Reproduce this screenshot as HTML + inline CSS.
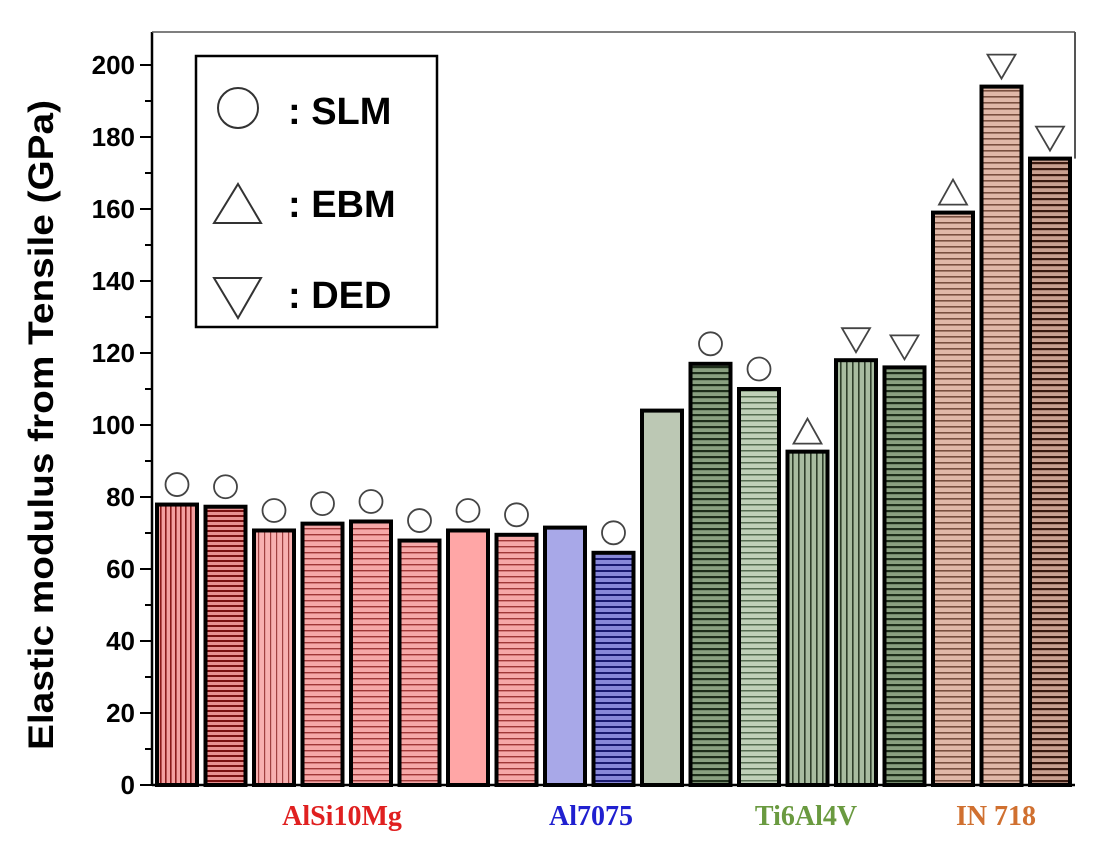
<!DOCTYPE html>
<html><head><meta charset="utf-8"><style>
body{margin:0;background:#fff;}
svg text{font-family:"Liberation Sans",Arial,sans-serif;}
svg text.serif{font-family:"Liberation Serif",serif;}
</style></head><body>
<svg id="chart" width="1104" height="849" viewBox="0 0 1104 849" xmlns="http://www.w3.org/2000/svg">
<defs>
<pattern id="pv-red" width="5" height="5" patternUnits="userSpaceOnUse"><rect width="5" height="5" fill="#f4a0a0"/><rect width="1.6" height="5" fill="#8a1a1a"/></pattern>
<pattern id="ph-reddark" width="5" height="5" patternUnits="userSpaceOnUse"><rect width="5" height="5" fill="#e89090"/><rect width="5" height="2" fill="#7a1010"/></pattern>
<pattern id="pv-redlight" width="6" height="6" patternUnits="userSpaceOnUse"><rect width="6" height="6" fill="#f8b0b0"/><rect width="1.2" height="6" fill="#a04040"/></pattern>
<pattern id="ph-redlight" width="6" height="6" patternUnits="userSpaceOnUse"><rect width="6" height="6" fill="#f6a8a8"/><rect width="6" height="1.4" fill="#a03838"/></pattern>
<pattern id="solid-red" width="6" height="6" patternUnits="userSpaceOnUse"><rect width="6" height="6" fill="#ffa6a6"/></pattern>
<pattern id="solid-blue" width="6" height="6" patternUnits="userSpaceOnUse"><rect width="6" height="6" fill="#a8a8e8"/></pattern>
<pattern id="ph-blue" width="6" height="6" patternUnits="userSpaceOnUse"><rect width="6" height="6" fill="#8888d8"/><rect width="6" height="2" fill="#1a1a70"/></pattern>
<pattern id="solid-green" width="6" height="6" patternUnits="userSpaceOnUse"><rect width="6" height="6" fill="#bcc8b4"/></pattern>
<pattern id="ph-greendark" width="6" height="6" patternUnits="userSpaceOnUse"><rect width="6" height="6" fill="#8aa080"/><rect width="6" height="2.2" fill="#1e2e1a"/></pattern>
<pattern id="ph-greenlight" width="6" height="6" patternUnits="userSpaceOnUse"><rect width="6" height="6" fill="#c0d0b8"/><rect width="6" height="1.5" fill="#556b50"/></pattern>
<pattern id="pv-green" width="6" height="6" patternUnits="userSpaceOnUse"><rect width="6" height="6" fill="#a8bca0"/><rect width="1.6" height="6" fill="#2e3e2a"/></pattern>
<pattern id="ph-brownlight" width="6" height="6" patternUnits="userSpaceOnUse"><rect width="6" height="6" fill="#e0b8a8"/><rect width="6" height="1.6" fill="#7a5040"/></pattern>
<pattern id="ph-browndark" width="6" height="6" patternUnits="userSpaceOnUse"><rect width="6" height="6" fill="#c8a090"/><rect width="6" height="2.2" fill="#3a1a10"/></pattern>
</defs>
<g id="axes"></g>
<g id="bars"></g>
<g id="markers"></g>
<g>
<rect x="196" y="56" width="241" height="271" fill="#fff" stroke="#000" stroke-width="2.5"/>
<circle cx="238" cy="108" r="20" fill="none" stroke="#333" stroke-width="2"/>
<text x="288" y="124" font-size="38" font-weight="bold">: SLM</text>
<polygon points="238,184 261,223 214,223" fill="none" stroke="#333" stroke-width="2"/>
<text x="288" y="217" font-size="38" font-weight="bold">: EBM</text>
<polygon points="214,278 261,278 238,318" fill="none" stroke="#333" stroke-width="2"/>
<text x="288" y="308" font-size="38" font-weight="bold">: DED</text>
</g>
<text transform="translate(53,425) rotate(-90)" text-anchor="middle" font-size="35" font-weight="bold" textLength="650" lengthAdjust="spacingAndGlyphs">Elastic modulus from Tensile (GPa)</text>
<g font-weight="bold" font-size="28">
<text class="serif" x="342" y="825" text-anchor="middle" fill="#e02020">AlSi10Mg</text>
<text class="serif" x="591" y="825" text-anchor="middle" fill="#2020d0">Al7075</text>
<text class="serif" x="806" y="825" text-anchor="middle" fill="#6a9a40">Ti6Al4V</text>
<text class="serif" x="996" y="825" text-anchor="middle" fill="#d07030">IN 718</text>
</g>
</svg>
<script>
const values = [77.9, 77.3, 70.7, 72.6, 73.2, 67.9, 70.7, 69.5, 71.5, 64.5, 104, 117, 110, 92.6, 118, 116, 159, 194, 174];
const processes = ["SLM","SLM","SLM","SLM","SLM","SLM","SLM","SLM","none","SLM","none","SLM","SLM","EBM","DED","DED","EBM","DED","DED"];
const fills = ["pv-red","ph-reddark","pv-redlight","ph-redlight","ph-redlight","ph-redlight","solid-red","ph-redlight","solid-blue","ph-blue","solid-green","ph-greendark","ph-greenlight","pv-green","pv-green","ph-greendark","ph-brownlight","ph-brownlight","ph-browndark"];
const yTicks = [0,20,40,60,80,100,120,140,160,180,200];
const NS="http://www.w3.org/2000/svg";
const x0=152,x1=1075,yBase=785,yTop=32;
function y(v){return yBase - v*3.6;}
function xc(i){return 177 + i*48.5;}
function mk(tag,attrs,parent){const e=document.createElementNS(NS,tag);for(const k in attrs)e.setAttribute(k,attrs[k]);parent.appendChild(e);return e;}
const axes=document.getElementById('axes');
let l=mk('line',{x1:x0,y1:yTop,x2:x0,y2:yBase,stroke:'#000','stroke-width':2.5},axes);


l=mk('line',{x1:x0,y1:yBase,x2:x1,y2:yBase,stroke:'#000','stroke-width':2.5},axes);


l=mk('line',{x1:x0,y1:yTop,x2:x1,y2:yTop,stroke:'#555','stroke-width':1.5},axes);


l=mk('line',{x1:x1,y1:yTop,x2:x1,y2:y(174),stroke:'#555','stroke-width':2},axes);


for(let v=10;v<200;v+=20){const t=mk('line',{x1:x0-7,y1:y(v),x2:x0,y2:y(v),stroke:'#000','stroke-width':2},axes);

}
yTicks.forEach(v=>{const t=mk('line',{x1:x0-12,y1:y(v),x2:x0,y2:y(v),stroke:'#000','stroke-width':2},axes);


const tx=mk('text',{x:x0-17,y:y(v)+9,'text-anchor':'end','font-size':26,'font-weight':'bold'},axes);tx.textContent=v;

});
const bars=document.getElementById('bars'),markers=document.getElementById('markers');
values.forEach((v,i)=>{
 const cx=xc(i),w=40;
 const r=mk('rect',{x:cx-w/2,y:y(v),width:w,height:yBase-y(v),fill:'url(#'+fills[i]+')',stroke:'#000','stroke-width':4},bars);
 
 
 const my=y(v)-20;let m=null;
 if(processes[i]==='SLM') m=mk('circle',{cx:cx,cy:my,r:11.5,fill:'none',stroke:'#444','stroke-width':1.8},markers);
 else if(processes[i]==='EBM') m=mk('polygon',{points:`${cx},${my-13} ${cx+14},${my+12} ${cx-14},${my+12}`,fill:'none',stroke:'#444','stroke-width':1.8},markers);
 else if(processes[i]==='DED') m=mk('polygon',{points:`${cx-14},${my-12} ${cx+14},${my-12} ${cx},${my+12}`,fill:'none',stroke:'#444','stroke-width':1.8},markers);
 if(m){
 }
});
</script>
</body></html>
